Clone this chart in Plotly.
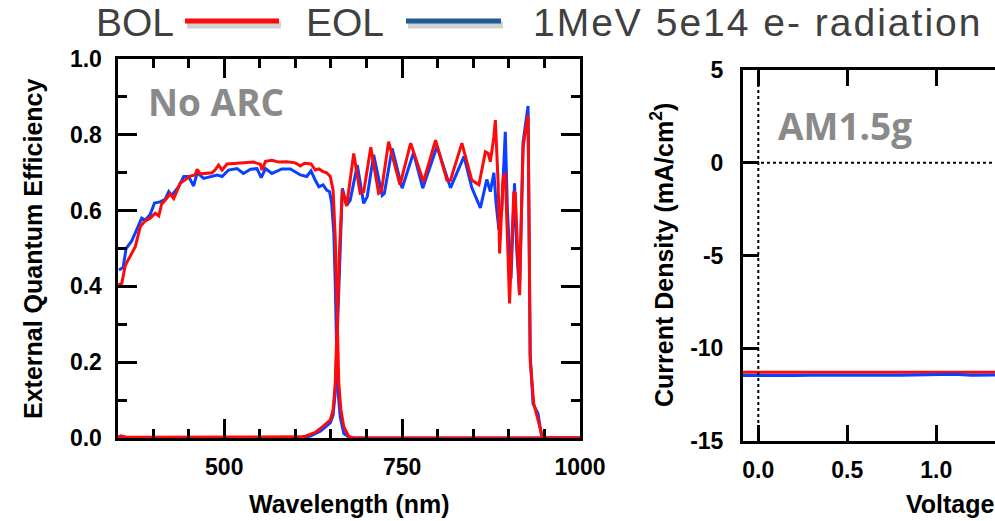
import plotly.graph_objects as go

W, H = 995, 521

# ---------------- EQE data (wavelength in nm, EQE as fraction) ----------------
# Top sub-cell, beginning of life
top_bol_wl = [351, 356, 361, 370, 375, 382, 389, 396, 403, 408, 412, 419, 424, 429, 438,
              445, 452, 459, 462, 466, 473, 483, 487, 492, 497, 504, 518, 532, 541, 551,
              553, 558, 567, 577, 588, 600, 607, 613, 622, 628, 633, 639, 644, 649, 653,
              656, 659, 661, 664, 668, 675, 682, 750, 850, 1000]
top_bol_eqe = [0.404, 0.408, 0.456, 0.487, 0.505, 0.558, 0.573, 0.580, 0.593, 0.586, 0.617,
               0.632, 0.644, 0.632, 0.672, 0.681, 0.691, 0.694, 0.709, 0.697, 0.698, 0.700,
               0.707, 0.720, 0.707, 0.723, 0.725, 0.726, 0.728, 0.722, 0.707, 0.730, 0.733,
               0.728, 0.729, 0.726, 0.718, 0.725, 0.723, 0.707, 0.710, 0.703, 0.700, 0.690,
               0.654, 0.531, 0.320, 0.144, 0.074, 0.030, 0.004, 0.0, 0.0, 0.0, 0.0]

# Top sub-cell, end of life
top_eol_wl = [352, 358, 362, 370, 377, 384, 389, 396, 402, 410, 417, 422, 426, 436, 443,
              450, 457, 462, 471, 480, 490, 497, 506, 518, 527, 537, 546, 552, 558, 567,
              581, 593, 607, 616, 622, 628, 633, 639, 644, 648, 651, 654, 656, 659, 663,
              668, 677, 750, 850, 1000]
top_eol_eqe = [0.443, 0.450, 0.500, 0.520, 0.550, 0.580, 0.575, 0.590, 0.620, 0.623, 0.630,
               0.650, 0.640, 0.663, 0.690, 0.690, 0.665, 0.700, 0.685, 0.690, 0.694, 0.690,
               0.707, 0.711, 0.698, 0.709, 0.711, 0.687, 0.711, 0.698, 0.710, 0.710, 0.694,
               0.690, 0.705, 0.680, 0.663, 0.668, 0.654, 0.650, 0.620, 0.540, 0.410, 0.144,
               0.056, 0.012, 0.0, 0.0, 0.0, 0.0]

# Bottom sub-cell, beginning of life
bot_bol_wl = [350, 355, 362, 400, 450, 500, 550, 600, 607, 614, 621, 628, 635, 642, 649,
              653, 656, 659, 662, 666, 672, 682, 691, 696, 706, 717, 721, 731, 747, 762,
              780, 797, 813, 818, 834, 848, 858, 867, 871, 874, 879, 881, 885, 887, 892,
              895, 901, 907, 909, 915, 920, 927, 930, 935, 941, 947, 954, 1000]
bot_bol_eqe = [0.002, 0.006, 0.002, 0.002, 0.002, 0.002, 0.002, 0.002, 0.003, 0.005, 0.009,
               0.015, 0.025, 0.035, 0.047, 0.074, 0.144, 0.320, 0.496, 0.654, 0.612, 0.751,
               0.646, 0.650, 0.767, 0.646, 0.652, 0.782, 0.668, 0.778, 0.676, 0.786, 0.680,
               0.680, 0.778, 0.680, 0.668, 0.755, 0.751, 0.729, 0.795, 0.839, 0.672, 0.487,
               0.685, 0.700, 0.355, 0.650, 0.646, 0.377, 0.769, 0.852, 0.206, 0.091, 0.047,
               0.004, 0.0, 0.0]

# Bottom sub-cell, end of life
bot_eol_wl = [350, 400, 450, 500, 550, 600, 607, 621, 635, 649, 653, 656, 659, 662, 666,
              672, 677, 687, 696, 701, 710, 722, 725, 736, 750, 766, 779, 799, 818, 837,
              848, 860, 869, 874, 879, 882, 886, 890, 895, 898, 903, 908, 911, 915, 920,
              927, 930, 934, 938, 941, 946, 955, 1000]
bot_eol_eqe = [0.001, 0.001, 0.001, 0.001, 0.001, 0.001, 0.001, 0.005, 0.018, 0.040, 0.060,
               0.120, 0.280, 0.460, 0.659, 0.614, 0.627, 0.720, 0.619, 0.637, 0.747, 0.640,
               0.645, 0.764, 0.659, 0.753, 0.659, 0.769, 0.660, 0.743, 0.660, 0.607, 0.682,
               0.650, 0.700, 0.620, 0.550, 0.600, 0.808, 0.600, 0.420, 0.672, 0.500, 0.380,
               0.780, 0.876, 0.220, 0.090, 0.075, 0.065, 0.005, 0.0, 0.0]

# ---------------- J-V data (voltage in V, current density in mA/cm^2) ----------------
volt = [-0.09, 0.0, 0.1, 0.2, 0.3, 0.4, 0.5, 0.6, 0.7, 0.8, 0.9, 1.0, 1.1, 1.2, 1.3, 1.4]
j_bol = [-11.30, -11.30, -11.31, -11.30, -11.30, -11.31, -11.30, -11.30, -11.29, -11.30,
         -11.30, -11.30, -11.30, -11.29, -11.29, -11.29]
j_eol = [-11.47, -11.48, -11.46, -11.47, -11.46, -11.45, -11.46, -11.45, -11.45, -11.46,
         -11.45, -11.45, -11.40, -11.45, -11.44, -11.44]

# ---------------- Tick labels ----------------
eqe_wl_ticks = [500, 750, 1000]
eqe_y_ticks = [0.0, 0.2, 0.4, 0.6, 0.8, 1.0]
eqe_y_labels = ["0.0", "0.2", "0.4", "0.6", "0.8", "1.0"]
jv_x_ticks = [0.0, 0.5, 1.0]
jv_x_labels = ["0.0", "0.5", "1.0"]
jv_y_ticks = [-15, -10, -5, 0, 5]
jv_y_labels = ["-15", "-10", "-5", "0", "5"]

RED = "#ff0a0a"
BLUE = "#0a40ff"
LEG_BLUE = "#1f5a96"


def px(x):
    return x / W


def py(y):
    return 1 - y / H


fig = go.Figure()

line_w = 3
for wl, v, c in [(top_eol_wl, top_eol_eqe, BLUE), (bot_eol_wl, bot_eol_eqe, BLUE),
                 (top_bol_wl, top_bol_eqe, RED), (bot_bol_wl, bot_bol_eqe, RED)]:
    fig.add_trace(go.Scatter(x=wl, y=v, mode="lines", line=dict(color=c, width=line_w),
                             xaxis="x", yaxis="y", showlegend=False, hoverinfo="skip"))

fig.add_trace(go.Scatter(x=volt, y=j_bol, mode="lines", line=dict(color=RED, width=3),
                         xaxis="x2", yaxis="y2", showlegend=False))
fig.add_trace(go.Scatter(x=volt, y=j_eol, mode="lines", line=dict(color=BLUE, width=3),
                         xaxis="x2", yaxis="y2", showlegend=False))

tick_font = dict(family="Liberation Sans, Arial, sans-serif", size=23, color="black", weight="bold")

fig.update_layout(
    width=W, height=H,
    margin=dict(l=0, r=0, t=0, b=0, pad=0, autoexpand=False),
    paper_bgcolor="white", plot_bgcolor="white",
    xaxis=dict(
        domain=[px(117.5), px(580)], range=[350, 1000],
        tickmode="array", tickvals=eqe_wl_ticks,
        ticks="inside", ticklen=19, tickwidth=3, tickcolor="black",
        showline=True, linewidth=3, linecolor="black", mirror="allticks",
        showgrid=False, zeroline=False, tickfont=tick_font, ticklabelstandoff=6,
        minor=dict(tick0=350, dtick=50, ticks="inside", ticklen=9, tickwidth=3,
                   tickcolor="black", showgrid=False),
        anchor="y", automargin=False,
    ),
    yaxis=dict(
        domain=[py(438), py(59)], range=[0, 1],
        tickmode="array", tickvals=eqe_y_ticks, ticktext=eqe_y_labels,
        ticks="inside", ticklen=19, tickwidth=3, tickcolor="black",
        showline=True, linewidth=3, linecolor="black", mirror="allticks",
        showgrid=False, zeroline=False, tickfont=tick_font, ticklabelstandoff=8,
        minor=dict(tick0=0, dtick=0.1, ticks="inside", ticklen=9, tickwidth=3,
                   tickcolor="black", showgrid=False),
        anchor="x", automargin=False,
    ),
    xaxis2=dict(
        domain=[px(743), 1.0], range=[-0.086, 1.33],
        tickmode="array", tickvals=jv_x_ticks, ticktext=jv_x_labels,
        ticks="inside", ticklen=16, tickwidth=3, tickcolor="black",
        showline=True, linewidth=3, linecolor="black", mirror="ticks",
        showgrid=False, zeroline=False, tickfont=tick_font, ticklabelstandoff=6,
        anchor="y2", automargin=False,
    ),
    yaxis2=dict(
        domain=[py(441), py(70)], range=[-15, 5],
        tickmode="array", tickvals=jv_y_ticks, ticktext=jv_y_labels,
        ticks="inside", ticklen=16, tickwidth=3, tickcolor="black",
        showline=True, linewidth=3, linecolor="black", mirror=False,
        showgrid=False, zeroline=False, tickfont=tick_font, ticklabelstandoff=12,
        anchor="x2", automargin=False,
    ),
)

# dotted zero lines on the J-V panel
fig.add_shape(type="line", xref="x2", yref="y2 domain", x0=0, x1=0, y0=0, y1=1,
              line=dict(color="black", width=2, dash="dot"))
fig.add_shape(type="line", xref="x2 domain", yref="y2", x0=0, x1=1, y0=0, y1=0,
              line=dict(color="black", width=2, dash="dot"))

title_font = dict(family="Liberation Sans, Arial, sans-serif", size=25, color="black", weight="bold")
panel_font = dict(family="Open Sans, sans-serif", size=37, color="#8a8a8a", weight="bold")
leg_font = dict(family="Liberation Sans, Arial, sans-serif", size=39, color="#404040")

annos = [
    dict(text="Wavelength (nm)", x=px(348.5), y=py(504), font=title_font),
    dict(text="External Quantum Efficiency", x=px(33), y=py(249), textangle=-90, font=title_font),
    dict(text="Current Density (mA/cm<sup>2</sup>)", x=px(662), y=py(255), textangle=-90, font=title_font),
    dict(text="Voltage", x=px(905), y=py(504), xanchor="left", font=title_font),
    dict(text="No ARC", x=px(147), y=py(101), xanchor="left", font=panel_font),
    dict(text="AM1.5g", x=px(777), y=py(125), xanchor="left", font=panel_font),
    dict(text="BOL", x=px(95), y=1, xanchor="left", yanchor="top", font=leg_font),
    dict(text="EOL", x=px(305), y=1, xanchor="left", yanchor="top", font=leg_font),
    dict(text='<span style="letter-spacing:2px">1MeV 5e14 e- radiation</span>',
         x=px(532), y=1, xanchor="left", yanchor="top", font=leg_font),
]
for a in annos:
    fig.add_annotation(xref="paper", yref="paper", showarrow=False, borderpad=0,
                       xanchor=a.pop("xanchor", "center"), yanchor=a.pop("yanchor", "middle"), **a)

# legend sample lines with a soft drop shadow
for x0, x1, c in [(185, 279, RED), (406, 501, LEG_BLUE)]:
    fig.add_shape(type="line", xref="paper", yref="paper", x0=px(x0 + 2), x1=px(x1 + 2),
                  y0=py(25), y1=py(25), line=dict(color="rgba(0,0,0,0.18)", width=7))
    fig.add_shape(type="line", xref="paper", yref="paper", x0=px(x0), x1=px(x1),
                  y0=py(21), y1=py(21), line=dict(color=c, width=5))

fig.write_html("out.html")
